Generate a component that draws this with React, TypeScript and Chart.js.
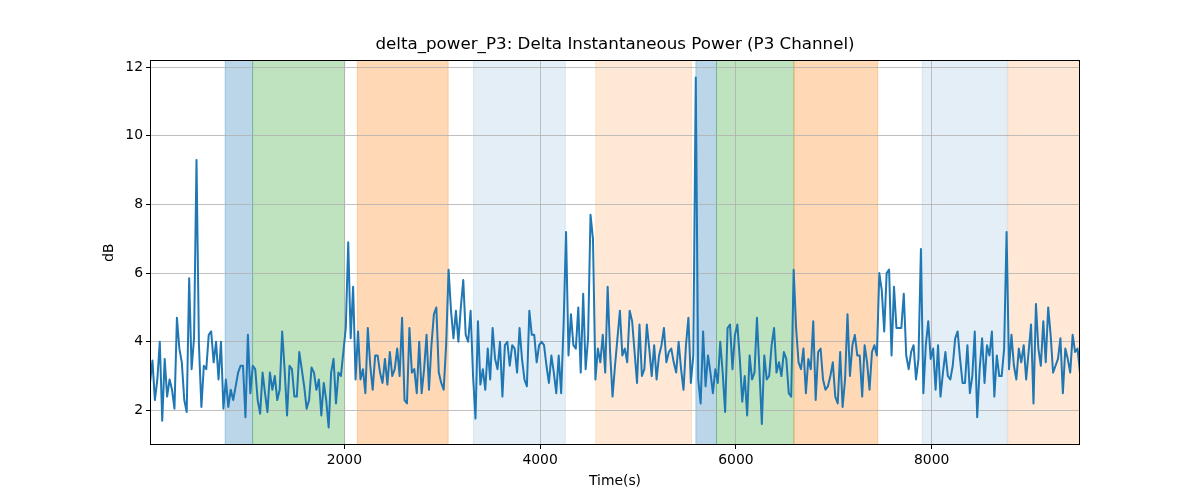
import React, { useEffect, useRef } from 'react';
import { Chart, registerables } from 'chart.js';

Chart.register(...registerables);

const TIME_START = 15;
const TIME_STEP = 25;

const seg1 = [2.8, 3.45, 2.3, 2.9, 4.0, 1.7, 3.5, 2.4, 2.9, 2.6,
  2.05, 4.7, 3.8, 3.4, 2.3, 1.95, 5.85, 3.2, 4.1, 9.3,
  3.9, 2.1, 3.3, 3.2, 4.2, 4.3, 3.4, 4.0, 2.9, 4.0,
  2.05, 2.9, 2.1, 2.6, 2.3, 2.7, 3.1, 3.3, 3.3];
const seg2 = [1.8, 4.2, 2.5, 3.3, 3.2, 2.3, 1.9, 3.1, 2.5, 1.95,
  3.1, 2.6, 3.0, 2.3, 2.6, 4.3, 3.2, 1.85, 3.3, 3.2,
  2.4, 2.4, 3.7, 3.2, 2.7, 2.05, 2.3, 3.25, 3.1, 2.6,
  2.9, 1.85, 2.8, 2.3, 1.5, 3.1, 3.5, 2.2, 3.1];
const seg3 = [3.0, 3.7, 4.4, 6.9, 4.1, 5.6, 2.9, 4.3, 2.9, 3.2,
  2.5, 4.4, 3.3, 2.6, 3.6, 3.6, 3.1, 2.8, 3.5, 2.75,
  3.7, 3.0, 3.2, 3.8, 3.0, 4.7, 2.3, 2.2, 4.4, 3.1,
  3.2, 2.5, 4.0, 2.5, 3.2, 4.2, 2.6, 3.9, 4.8];
const seg4 = [5.0, 3.1, 2.8, 2.6, 3.9, 6.1, 4.9, 4.1, 4.9, 4.0,
  5.0, 5.8, 4.2, 4.0, 4.9, 3.0, 1.76, 4.6, 2.75, 3.2,
  2.6, 3.8, 2.9, 4.4, 3.5, 3.2, 4.0, 2.4, 3.9, 4.0,
  3.3, 3.9, 3.8, 3.1, 4.4, 3.5, 2.9, 2.7, 4.9];
const seg5 = [4.2, 4.2, 3.4, 3.9, 4.0, 3.9, 3.3, 2.8, 3.6, 3.1,
  2.5, 3.6, 2.5, 4.5, 7.2, 3.6, 4.8, 3.9, 3.8, 5.0,
  3.1, 5.4, 3.2, 4.1, 7.7, 7.0, 2.9, 3.8, 3.4, 4.2,
  3.1, 5.6, 3.7, 2.4, 3.3, 4.1, 4.9, 3.6, 3.8];
const seg6 = [3.4, 4.9, 4.6, 3.7, 2.8, 4.5, 3.0, 3.2, 4.5, 3.8,
  3.0, 3.9, 2.9, 3.6, 3.9, 4.4, 3.4, 3.7, 3.8, 3.4,
  3.1, 4.0, 3.2, 2.6, 3.9, 4.7, 2.8, 3.6, 11.7, 2.9,
  2.2, 4.3, 2.7, 3.6, 3.1, 2.5, 3.2, 2.8, 4.0];
const seg7 = [3.1, 1.95, 4.4, 4.5, 3.2, 4.2, 4.5, 3.5, 2.25, 3.0,
  1.85, 3.6, 2.9, 3.1, 4.7, 3.2, 1.6, 3.6, 2.9, 3.0,
  3.9, 4.4, 3.1, 3.4, 3.0, 3.7, 3.5, 2.5, 2.4, 6.1,
  4.4, 3.4, 3.2, 3.8, 2.5, 3.5, 3.2, 4.6, 2.3];
const seg8 = [3.7, 3.8, 2.9, 2.6, 2.7, 3.0, 3.4, 2.4, 2.2, 3.7,
  2.1, 2.9, 4.8, 3.0, 3.9, 4.2, 3.6, 3.6, 2.4, 3.9,
  3.4, 2.6, 3.7, 3.9, 3.6, 6.0, 5.5, 4.3, 6.0, 6.1,
  3.6, 5.6, 4.4, 4.4, 4.4, 5.4, 3.6, 3.2, 3.7];
const seg9 = [3.9, 2.9, 3.5, 6.7, 2.5, 3.9, 4.6, 3.5, 3.8, 2.6,
  3.9, 2.4, 3.1, 3.7, 3.0, 2.9, 3.3, 4.1, 4.3, 3.5,
  2.8, 2.8, 3.9, 2.5, 3.0, 4.3, 1.8, 3.2, 4.1, 2.8,
  3.9, 3.6, 4.3, 2.4, 3.6, 3.0, 3.0, 3.8, 7.2];
const seg10 = [3.2, 4.2, 3.3, 2.9, 3.8, 3.4, 3.9, 2.9, 3.7, 4.5,
  2.2, 5.1, 3.8, 3.3, 4.6, 3.4, 5.0, 4.2, 3.1, 3.3,
  3.5, 4.1, 2.5, 3.8, 3.5, 3.1, 4.2, 3.7, 3.8, 3.1];

const powerDb = [...seg1, ...seg2, ...seg3, ...seg4, ...seg5, ...seg6, ...seg7, ...seg8, ...seg9, ...seg10];
const timesSec = powerDb.map((_, i) => TIME_START + i * TIME_STEP);

const spanStarts = [783, 1063, 2133, 3320, 4568, 5591, 5802, 6593, 7903, 8779];
const spanEnds = [1063, 2003, 3061, 4258, 5547, 5802, 6593, 7449, 8772, 9700];
const spanColors = [
  'rgba(31,119,180,0.3)', 'rgba(44,160,44,0.3)', 'rgba(255,127,14,0.3)',
  'rgba(31,119,180,0.12)', 'rgba(255,127,14,0.17)',
  'rgba(31,119,180,0.3)', 'rgba(44,160,44,0.3)', 'rgba(255,127,14,0.3)',
  'rgba(31,119,180,0.12)', 'rgba(255,127,14,0.17)',
];

const xTicks = [2000, 4000, 6000, 8000];
const yTicks = [2, 4, 6, 8, 10, 12];

const FONT = "'DejaVu Sans', sans-serif";

const spanPlugin = {
  id: 'spans',
  beforeDraw(chart: any) {
    const { ctx, chartArea, scales } = chart;
    const xs = scales.x;
    const top = chartArea.top;
    const h = chartArea.bottom - chartArea.top;
    ctx.save();
    ctx.beginPath();
    ctx.rect(chartArea.left, chartArea.top, chartArea.right - chartArea.left, h);
    ctx.clip();
    spanStarts.forEach((s, i) => {
      const x0 = xs.getPixelForValue(s);
      const x1 = xs.getPixelForValue(spanEnds[i]);
      ctx.fillStyle = spanColors[i];
      ctx.fillRect(x0, top, x1 - x0, h);
      ctx.strokeStyle = spanColors[i];
      ctx.lineWidth = 1;
      ctx.beginPath();
      ctx.moveTo(x0, top); ctx.lineTo(x0, top + h);
      ctx.moveTo(x1, top); ctx.lineTo(x1, top + h);
      ctx.stroke();
    });
    ctx.restore();
  },
  afterDraw(chart: any) {
    const { ctx, chartArea } = chart;
    ctx.save();
    ctx.strokeStyle = '#000';
    ctx.lineWidth = 1;
    const l = Math.round(chartArea.left) + 0.5;
    const t = Math.round(chartArea.top) + 0.5;
    const r = Math.round(chartArea.right) - 0.5;
    const b = Math.round(chartArea.bottom) - 0.5;
    ctx.strokeRect(l, t, r - l, b - t);
    ctx.restore();
  },
};

export default function App() {
  const ref = useRef<HTMLCanvasElement | null>(null);
  useEffect(() => {
    if (!ref.current) return;
    const lo = Math.min(...powerDb);
    const hi = Math.max(...powerDb);
    const pad = (hi - lo) * 0.05;
    const chart = new Chart(ref.current, {
      type: 'line',
      data: {
        datasets: [{
          label: 'delta_power_P3',
          data: timesSec.map((t, i) => ({ x: t, y: powerDb[i] })),
          borderColor: '#1f77b4',
          borderWidth: 2,
          pointRadius: 0,
          tension: 0,
          fill: false,
          borderJoinStyle: 'round',
          borderCapStyle: 'round',
        }],
      },
      options: {
        animation: false,
        responsive: false,
        devicePixelRatio: 1,
        layout: { padding: { left: 0, right: 120, top: 0, bottom: 0 } },
        plugins: {
          legend: { display: false },
          tooltip: { enabled: false },
          title: {
            display: true,
            fullSize: false,
            text: 'delta_power_P3: Delta Instantaneous Power (P3 Channel)',
            color: '#000',
            font: { family: FONT, size: 16.7, weight: 'normal' },
            padding: { top: 35, bottom: 5 },
          },
        },
        scales: {
          x: {
            type: 'linear',
            min: timesSec[0],
            max: timesSec[timesSec.length - 1],
            afterFit: (s: any) => { s.height = 55; },
            afterBuildTicks: (s: any) => { s.ticks = xTicks.map((v) => ({ value: v })); },
            grid: { color: '#b0b0b0', lineWidth: 0.8, tickLength: 4, tickColor: '#000', tickWidth: 1 },
            border: { display: false },
            ticks: {
              color: '#000', font: { family: FONT, size: 13.9 }, padding: 3, maxRotation: 0,
              callback: (v: any) => String(v),
            },
            title: {
              display: true, text: 'Time(s)', color: '#000',
              font: { family: FONT, size: 13.9 }, padding: { top: 0, bottom: 10.7 },
            },
          },
          y: {
            type: 'linear',
            min: lo - pad,
            max: hi + pad,
            afterFit: (s: any) => { s.width = 150; },
            afterBuildTicks: (s: any) => { s.ticks = yTicks.map((v) => ({ value: v })); },
            grid: { color: '#b0b0b0', lineWidth: 0.8, tickLength: 4, tickColor: '#000', tickWidth: 1 },
            border: { display: false },
            ticks: {
              color: '#000', font: { family: FONT, size: 13.9 }, padding: 3,
              callback: (v: any) => String(v),
            },
            title: {
              display: true, text: 'dB', color: '#000',
              font: { family: FONT, size: 13.9 }, padding: { top: 101, bottom: 0 },
            },
          },
        },
      },
      plugins: [spanPlugin],
    });
    return () => chart.destroy();
  }, []);
  return (
    <div style={{ position: 'absolute', left: 0, top: 0, width: 1200, height: 500, background: '#fff' }}>
      <canvas ref={ref} width={1200} height={500} style={{ display: 'block' }} />
    </div>
  );
}
